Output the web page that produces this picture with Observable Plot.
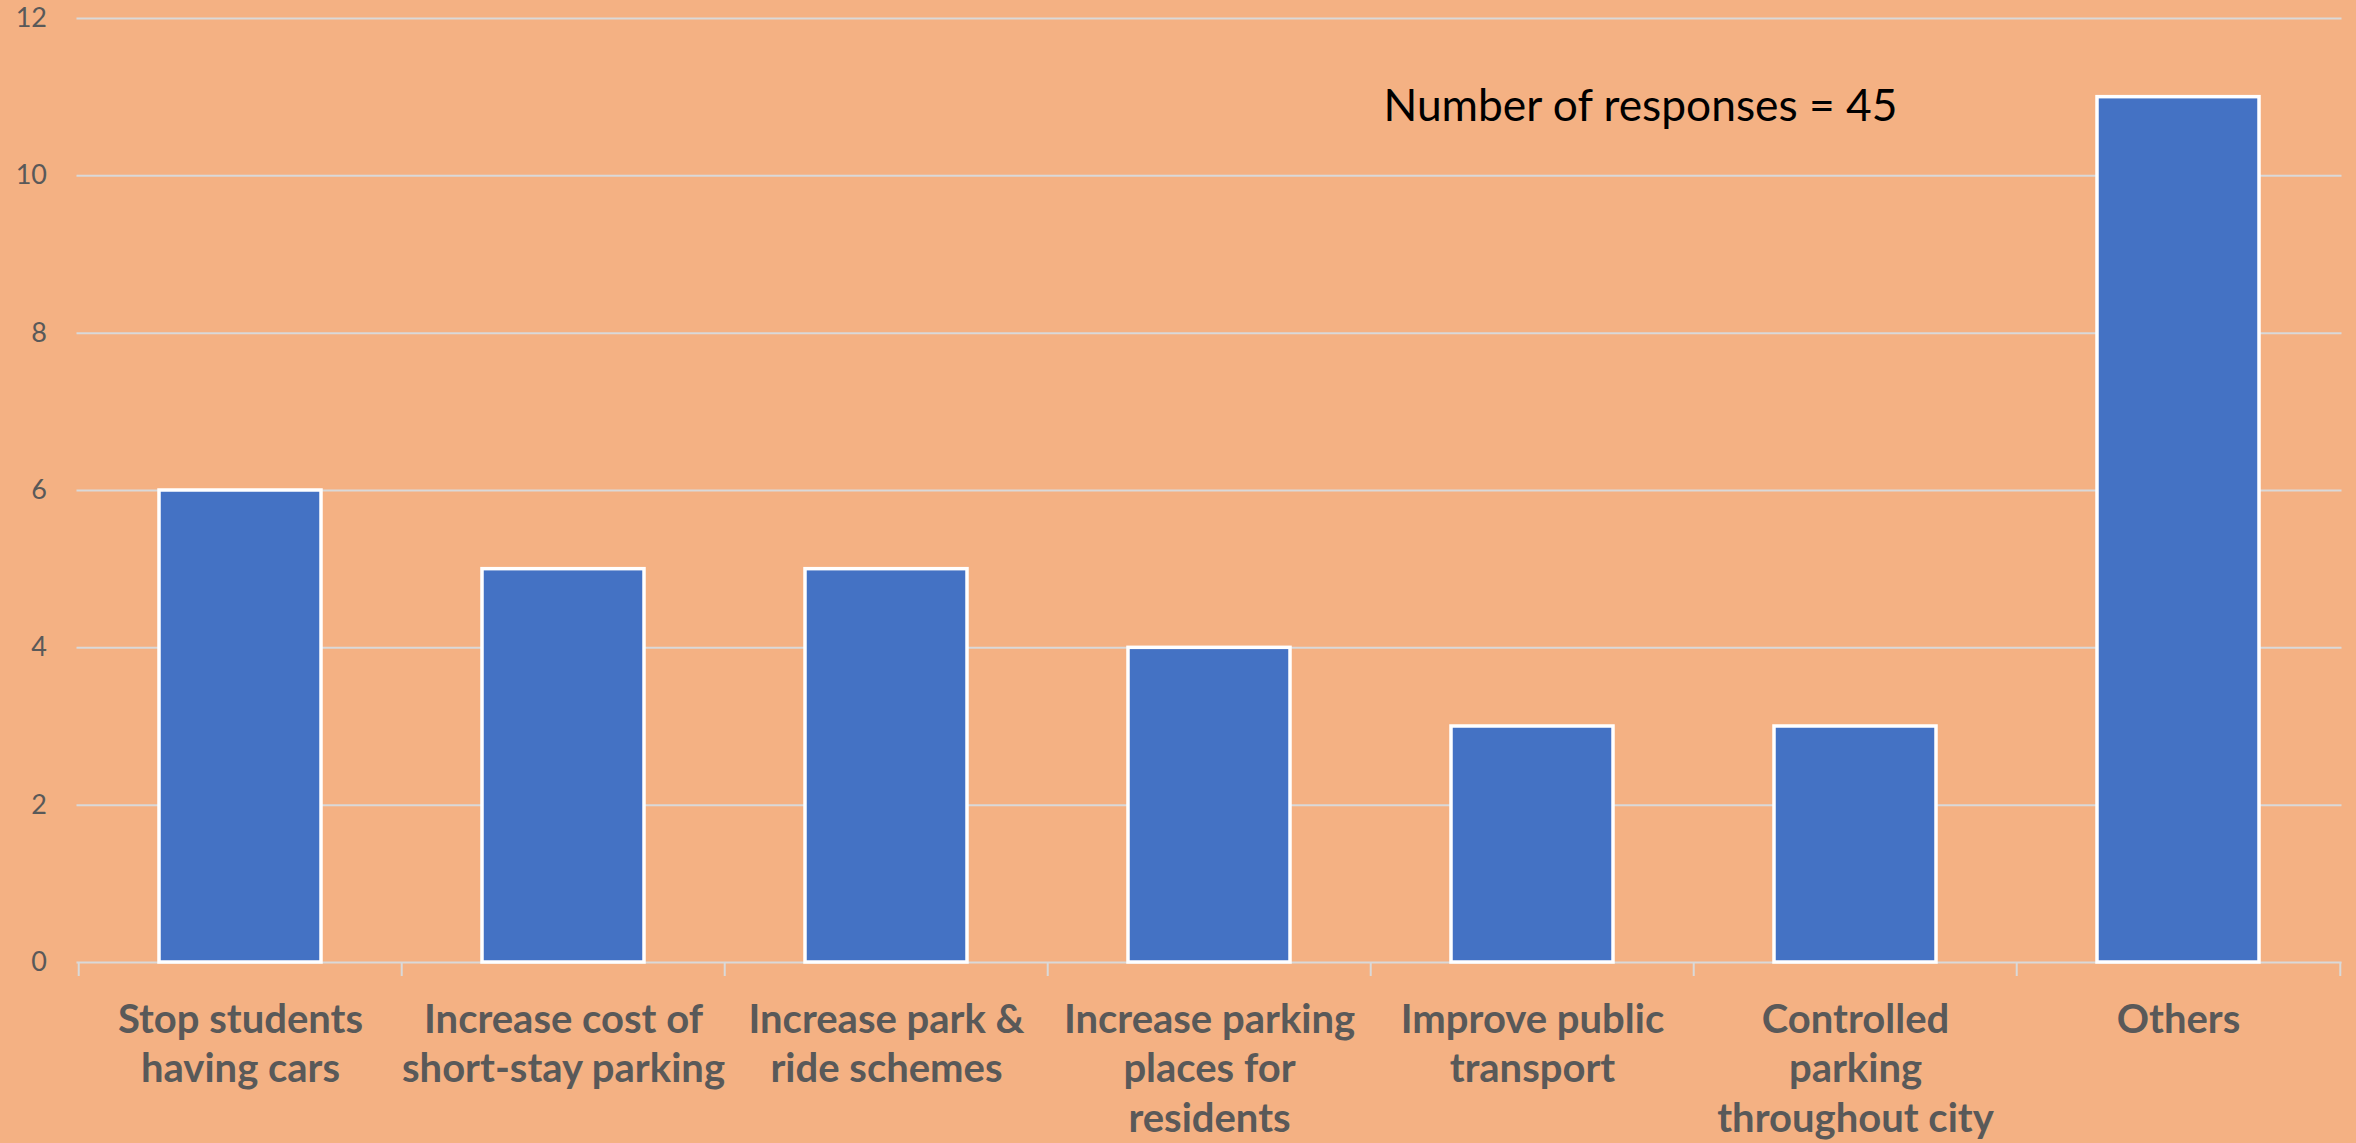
<!DOCTYPE html>
<html>
<head>
<meta charset="utf-8">
<script src="https://cdn.jsdelivr.net/npm/d3@7"></script>
<script src="https://cdn.jsdelivr.net/npm/@observablehq/plot@0.6"></script>
<style>
  html, body { margin: 0; padding: 0; background: #F4B183; }
  #chart { width: 2356px; height: 1143px; overflow: hidden; }
</style>
</head>
<body>
<div id="chart"></div>
<script>
const categories = [
  "Stop students\nhaving cars",
  "Increase cost of\nshort-stay parking",
  "Increase park &\nride schemes",
  "Increase parking\nplaces for\nresidents",
  "Improve public\ntransport",
  "Controlled\nparking\nthroughout city",
  "Others"
];
const values = [6, 5, 5, 4, 3, 3, 11];
const yTicks = [0, 2, 4, 6, 8, 10, 12];
const note = "Number of responses = 45";

const data = categories.map((c, i) => ({category: c, value: values[i]}));

const W = 2356, H = 1143;
const mL = 76.5, mR = 14.5, mT = 18, mB = 181;
const step = (W - mL - mR) / 7;
const half = step / 2;
const gridColor = "#d9d9d9";
const textColor = "#595959";

const chart = Plot.plot({
  width: W,
  height: H,
  marginLeft: mL,
  marginRight: mR,
  marginTop: mT,
  marginBottom: mB,
  style: {background: "#F4B183", fontFamily: "Lato, 'Open Sans', sans-serif"},
  x: {domain: categories, paddingInner: 0.5, paddingOuter: 0.25, label: null},
  y: {domain: [0, 12], ticks: yTicks, label: null},
  marks: [
    Plot.ruleY(yTicks, {stroke: gridColor, strokeWidth: 2}),
    Plot.ruleX(categories, {x: d => d, y1: 0, y2: 0, insetBottom: -14, dx: -half, stroke: gridColor, strokeWidth: 2}),
    Plot.ruleX(categories.slice(-1), {x: d => d, y1: 0, y2: 0, insetBottom: -14, dx: half, stroke: gridColor, strokeWidth: 2}),
    Plot.barY(data, {x: "category", y: "value", fill: "#4472C4", stroke: "white", strokeWidth: 3.5}),
    Plot.axisY({ticks: yTicks, tickSize: 0, tickPadding: 30, fontSize: 27, fill: textColor, label: null}),
    Plot.axisX({tickSize: 0, tickPadding: 35, fontSize: 40, fontWeight: "bold", fill: textColor, lineHeight: 1.24, label: null}),
    Plot.text([note], {text: d => d, frameAnchor: "top-left", textAnchor: "start", lineAnchor: "top", dx: 1383 - mL, dy: 71, fontSize: 44.3, fill: "black"})
  ]
});
document.getElementById("chart").appendChild(chart);
</script>
</body>
</html>
